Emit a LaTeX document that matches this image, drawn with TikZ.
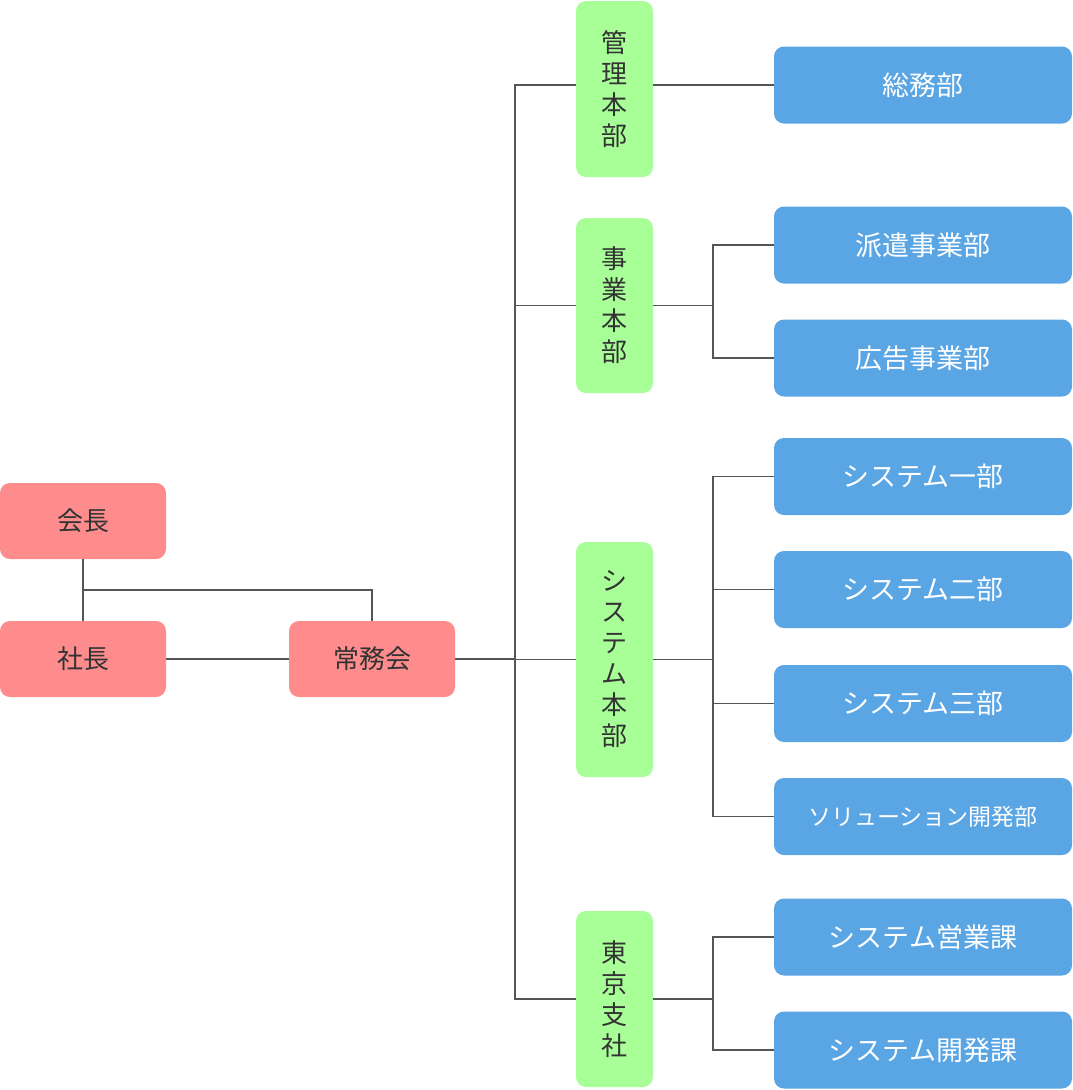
\documentclass[tikz,border=0pt]{standalone}
\usepackage{fontspec}
\newfontfamily\cjk{Noto Sans CJK JP}
\definecolor{redb}{HTML}{FF8C8C}
\definecolor{greenb}{HTML}{A8FF98}
\definecolor{blueb}{HTML}{5AA5E3}
\definecolor{txt}{HTML}{333333}
\definecolor{ln}{HTML}{555555}
\begin{document}
\begin{tikzpicture}[x=1pt,y=-1pt,
 red/.style={fill=redb,rounded corners=10pt,minimum width=166pt,minimum height=76pt,text=txt,font=\cjk\fontsize{26}{30}\selectfont,inner sep=0pt},
 green/.style={fill=greenb,rounded corners=10pt,minimum width=77pt,text=txt,font=\cjk\fontsize{26}{31}\selectfont,align=center,inner sep=0pt},
 blue/.style={fill=blueb,rounded corners=10pt,minimum width=298pt,minimum height=77pt,text=white,font=\cjk\fontsize{27}{30}\selectfont,inner sep=0pt},
 conn/.style={draw=ln,line width=1.6pt}]
\useasboundingbox (0,0) rectangle (1072,1090);
\node[red] (kaicho) at (83,521) {会長};
\node[red] (shacho) at (83,659) {社長};
\node[red] (jomu) at (372,659) {常務会};
\node[green,minimum height=176pt] (kanri) at (614.5,89) {管\\理\\本\\部};
\node[green,minimum height=175pt] (jigyo) at (614.5,305.5) {事\\業\\本\\部};
\node[green,minimum height=235pt] (sys) at (614.5,659.5) {シ\\ス\\テ\\ム\\本\\部};
\node[green,minimum height=176pt] (tokyo) at (614.5,999) {東\\京\\支\\社};
\node[blue] (somu) at (923,85) {総務部};
\node[blue] (haken) at (923,245) {派遣事業部};
\node[blue] (kokoku) at (923,358) {広告事業部};
\node[blue] (s1) at (923,476.5) {システム一部};
\node[blue] (s2) at (923,589.5) {システム二部};
\node[blue] (s3) at (923,703.5) {システム三部};
\node[blue,font=\cjk\fontsize{23}{28}\selectfont] (sol) at (923,816.5) {ソリューション開発部};
\node[blue] (eigyo) at (923,937) {システム営業課};
\node[blue] (kaihatsu) at (923,1050) {システム開発課};
\coordinate (b1) at (515,0);
\coordinate (b2) at (713,0);
\draw[conn] (kaicho.south) -- (shacho.north);
\draw[conn] (83,590) -| (jomu.north);
\draw[conn] (shacho.east) -- (jomu.east -| jomu.west);
\draw[conn] (jomu.east) -- (b1 |- jomu.east);
\draw[conn] (kanri.west |- somu) -| (b1 |- tokyo) -- (tokyo.west);
\draw[conn] (b1 |- jigyo) -- (jigyo.west);
\draw[conn] (b1 |- sys) -- (sys.west);
\draw[conn] (kanri.east |- somu) -- (somu.west);
\draw[conn] (jigyo.east) -- (b2 |- jigyo);
\draw[conn] (haken.west) -| (b2 |- kokoku) -- (kokoku.west);
\draw[conn] (sys.east) -- (b2 |- sys);
\draw[conn] (s1.west) -| (b2 |- sol) -- (sol.west);
\draw[conn] (b2 |- s2) -- (s2.west);
\draw[conn] (b2 |- s3) -- (s3.west);
\draw[conn] (tokyo.east) -- (b2 |- tokyo);
\draw[conn] (eigyo.west) -| (b2 |- kaihatsu) -- (kaihatsu.west);
\end{tikzpicture}
\end{document}
